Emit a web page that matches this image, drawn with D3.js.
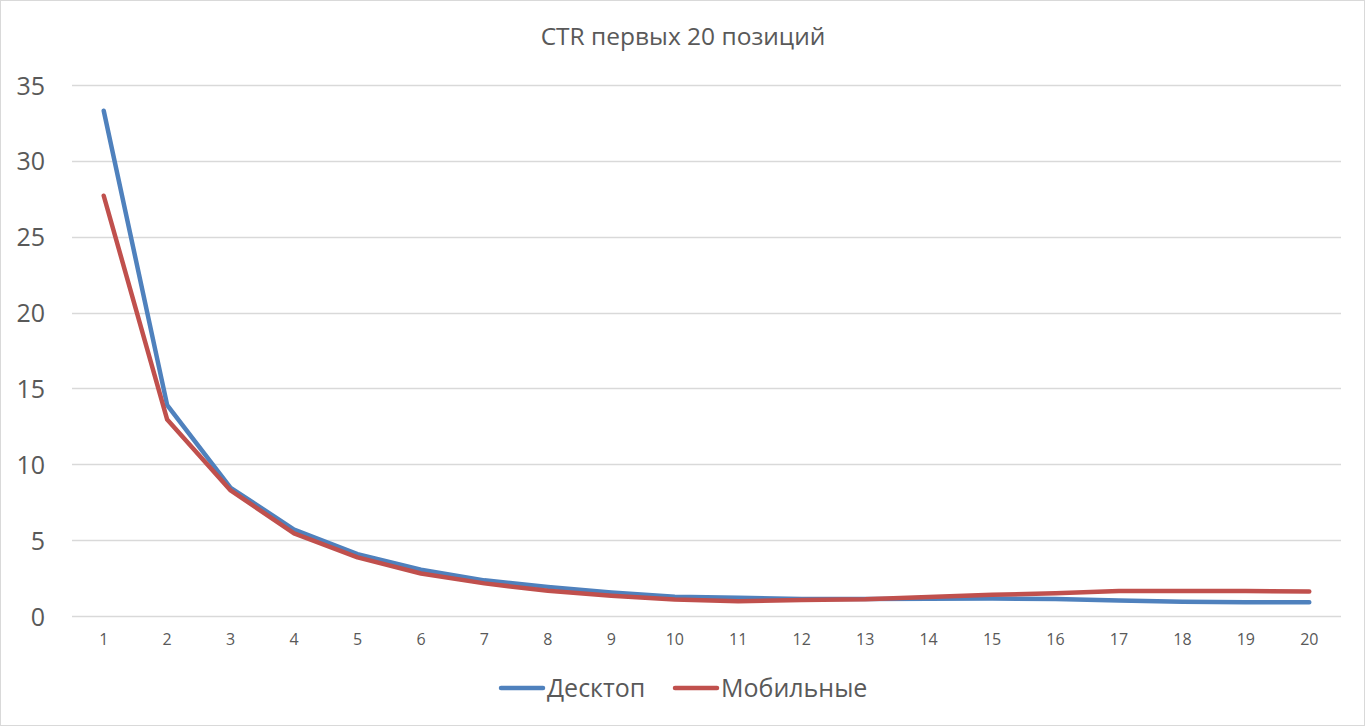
<!DOCTYPE html>
<html><head><meta charset="utf-8">
<script src="https://cdn.jsdelivr.net/npm/d3@7"></script>
<style>
html,body{margin:0;padding:0;background:#fff;}
svg{display:block;}
text{font-family:"Open Sans","Noto Sans",sans-serif;fill:#595959;}
</style></head><body>
<script>
const title = "CTR первых 20 позиций";
const positions = ["1","2","3","4","5","6","7","8","9","10","11","12","13","14","15","16","17","18","19","20"];
const desktop = [33.3,13.9,8.45,5.7,4.08,3.05,2.35,1.92,1.55,1.27,1.2,1.12,1.12,1.13,1.15,1.12,1.02,0.94,0.9,0.9];
const mobile  = [27.7,12.95,8.28,5.45,3.86,2.8,2.15,1.66,1.34,1.08,0.98,1.05,1.1,1.25,1.4,1.5,1.64,1.64,1.64,1.62];
const seriesNames = ["Десктоп","Мобильные"];
const colors = ["#4F81BD","#C0504D"];
const yTicks = [0,5,10,15,20,25,30,35];

const W=1365,H=726;
const svg=d3.select("body").append("svg").attr("width",W).attr("height",H);
svg.append("rect").attr("x",0.5).attr("y",0.5).attr("width",W-1).attr("height",H-1).attr("fill","#fff").attr("stroke","#d9d9d9");

const x=d3.scaleBand().domain(positions).range([72,1341]);
const y=d3.scaleLinear().domain([0,35]).range([616,85]);

svg.append("text").attr("x",683).attr("y",45).attr("text-anchor","middle").attr("font-size",24.5).text(title);

const g=svg.append("g");
g.selectAll("line.grid").data(yTicks).join("line").attr("class","grid")
 .attr("x1",72).attr("x2",1341).attr("y1",d=>Math.round(y(d))+0.5).attr("y2",d=>Math.round(y(d))+0.5)
 .attr("stroke","#d9d9d9").attr("stroke-width",1.3);

const yAxis=svg.append("g").attr("transform","translate(45,0)")
 .call(d3.axisLeft(y).tickValues(yTicks).tickSize(0).tickPadding(0));
yAxis.select(".domain").remove();
yAxis.selectAll("text").attr("font-size",25).attr("fill","#595959").attr("dy","0.36em").style("font-family",'"Open Sans","Noto Sans",sans-serif');

const xAxis=svg.append("g").attr("transform","translate(0,634)")
 .call(d3.axisBottom(x).tickSize(0).tickPadding(0));
xAxis.select(".domain").remove();
xAxis.selectAll("text").attr("font-size",16).attr("fill","#595959").attr("dy","0.71em").style("font-family",'"Open Sans","Noto Sans",sans-serif');

const line=d3.line().x((d,i)=>x(positions[i])+x.bandwidth()/2).y(d=>y(d));
[desktop,mobile].forEach((s,k)=>{
  svg.append("path").datum(s).attr("d",line).attr("fill","none")
   .attr("stroke",colors[k]).attr("stroke-width",4.5).attr("stroke-linejoin","round").attr("stroke-linecap","round");
});

// legend
const legX=[501,675];
seriesNames.forEach((n,k)=>{
  const lg=svg.append("g").attr("transform",`translate(${legX[k]},688)`);
  lg.append("line").attr("x1",0).attr("x2",42).attr("y1",0).attr("y2",0).attr("stroke",colors[k]).attr("stroke-width",4.5).attr("stroke-linecap","round");
  lg.append("text").attr("x",46).attr("y",0).attr("dy","0.36em").attr("font-size",25).text(n);
});
</script>
</body></html>
